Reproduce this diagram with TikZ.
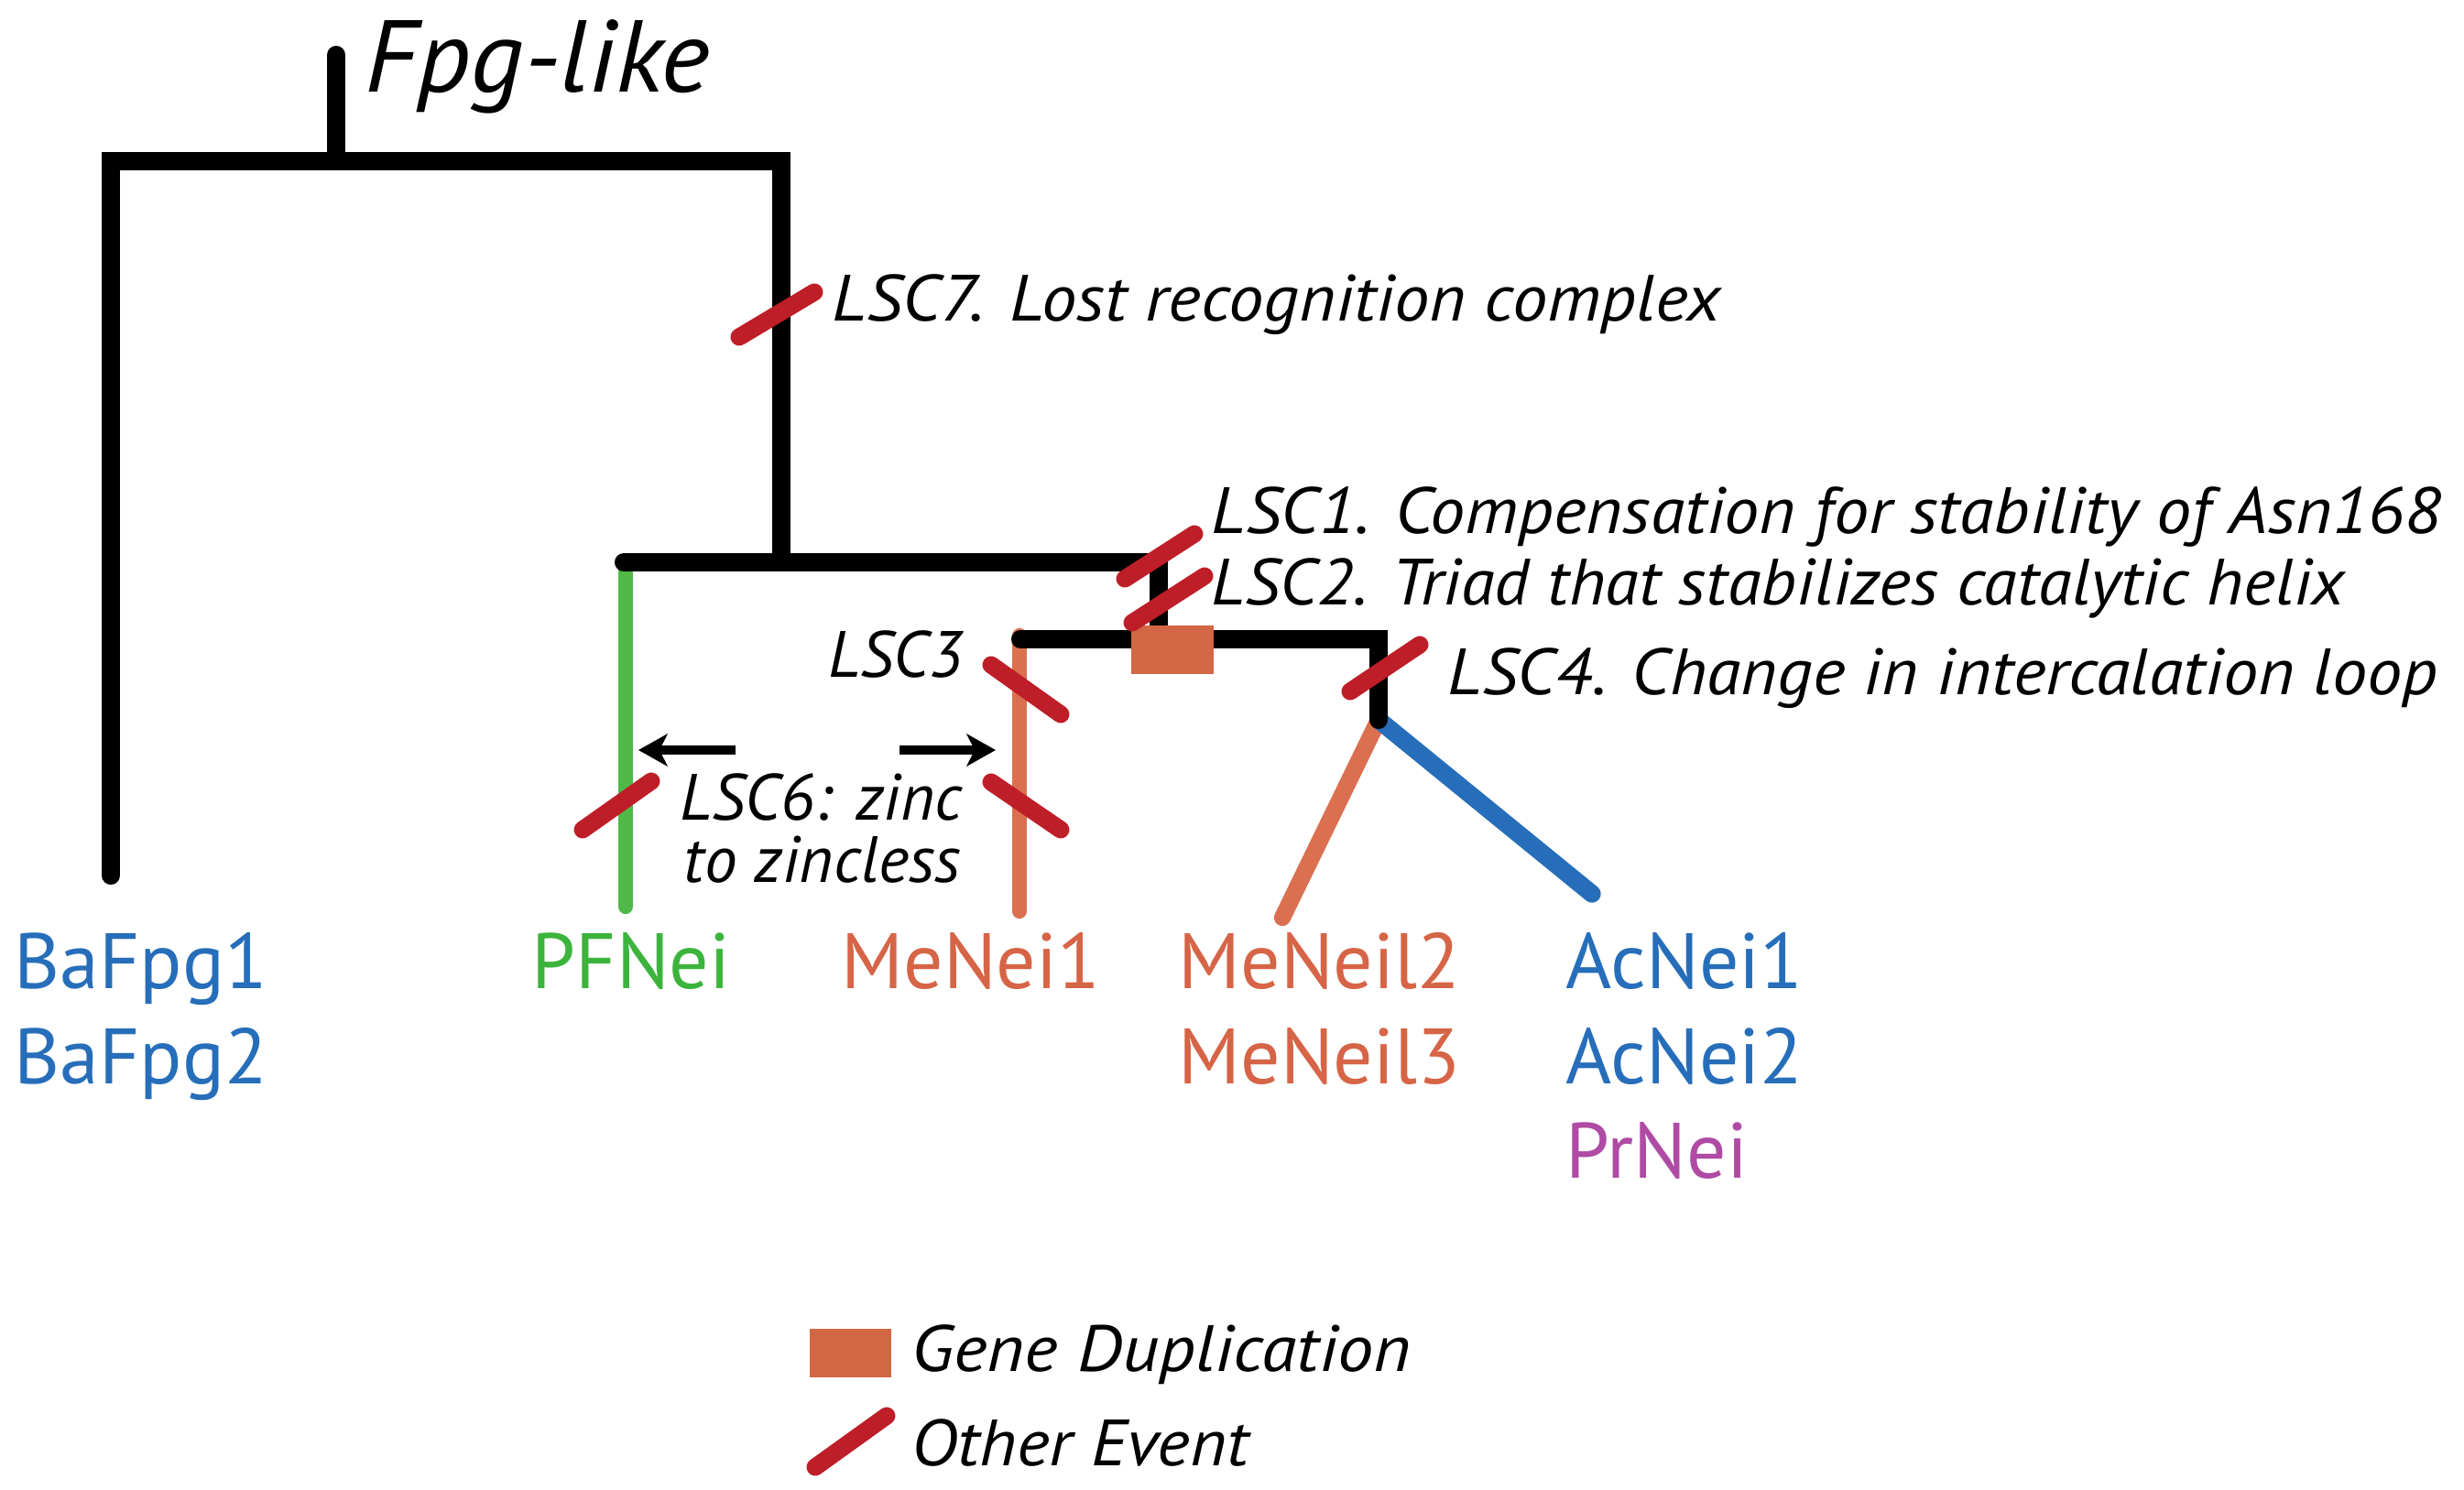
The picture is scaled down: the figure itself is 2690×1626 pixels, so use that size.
\documentclass[tikz,border=0pt]{standalone}
\usepackage{fontspec}
\usepackage{graphicx}
\setmainfont{PT Sans}
\usetikzlibrary{arrows.meta}
\definecolor{tblue}{RGB}{38,110,185}
\definecolor{tgreen}{RGB}{80,185,72}
\definecolor{tgreentxt}{RGB}{60,180,60}
\definecolor{torange}{RGB}{218,112,80}
\definecolor{torangetxt}{RGB}{214,100,70}
\definecolor{tsquare}{RGB}{210,102,69}
\definecolor{tpurple}{RGB}{175,75,165}
\definecolor{tred}{RGB}{190,30,40}
\newcommand\stretchtxt[2]{\scalebox{#1}[1]{#2}}
\tikzset{
  branch/.style={line width=5.7pt, line cap=round, line join=miter, black},
  gbranch/.style={line width=4.6pt, line cap=round, tgreen},
  obranch/.style={line width=4.6pt, line cap=round, torange},
  obranch2/.style={line width=5.2pt, line cap=round, torange},
  bbranch/.style={line width=5.5pt, line cap=round, tblue},
  evmark/.style={line width=5.4pt, line cap=round, tred},
  dupbox/.style={fill=tsquare, draw=none, inner sep=0, minimum width=0.89cm, minimum height=0.53cm},
  lbl/.style={font=\fontsize{20.3}{24}\selectfont\itshape, inner sep=0, anchor=base west},
  taxon/.style={font=\fontsize{24.4}{28}\selectfont, inner sep=0, anchor=base west},
  harrow/.style={line width=2.8pt, -{Stealth[length=9pt,width=10pt,inset=2.5pt]}, black},
}
\begin{document}
\begin{tikzpicture}[x=0.01cm, y=-0.01cm]
\useasboundingbox (0,0) rectangle (2690,1626);
% coordinates of the tree
\coordinate (r0) at (367,60);
\coordinate (r1) at (367,176);
\coordinate (tl) at (121,176);
\coordinate (tr) at (853,176);
\coordinate (bl) at (121,956);
\coordinate (n2) at (853,614);
\coordinate (n2l) at (681,614);
\coordinate (n2r) at (1265,614);
\coordinate (n3) at (1265,698);
\coordinate (n3l) at (1114,698);
\coordinate (n3r) at (1505,698);
\coordinate (n4) at (1505,786);
\coordinate (pf) at (683,990);
\coordinate (pft) at (683,614);
\coordinate (me1t) at (1113,694);
\coordinate (me1) at (1113,995);
\coordinate (me2) at (1400,1002);
\coordinate (ac) at (1738,976);

% coloured branches
\draw[gbranch] (pft) -- (pf);
\draw[obranch] (me1t) -- (me1);
\draw[obranch2] (n4) -- (me2);
\draw[bbranch] (n4) -- (ac);

% black branches
\draw[branch] (r0) -- (r1);
\draw[branch] (bl) -- (tl) -- (tr) -- (n2);
\draw[branch] (n2l) -- (n2r) -- (n3);
\draw[branch] (n3l) -- (n3r) -- (n4);

% gene duplication
\node[dupbox] (dup) at (1280,709) {};

% event marks
\coordinate (e7a) at (807,368); \coordinate (e7b) at (889,319);
\coordinate (e1a) at (1228,632); \coordinate (e1b) at (1304,583);
\coordinate (e2a) at (1236,680); \coordinate (e2b) at (1315,629);
\coordinate (e4a) at (1474,755); \coordinate (e4b) at (1550,704);
\coordinate (e3a) at (1082,726); \coordinate (e3b) at (1158,780);
\coordinate (e6a) at (1082,854); \coordinate (e6b) at (1158,906);
\coordinate (e5a) at (636,906); \coordinate (e5b) at (711,853);
\draw[evmark] (e7a) -- (e7b);
\draw[evmark] (e1a) -- (e1b);
\draw[evmark] (e2a) -- (e2b);
\draw[evmark] (e4a) -- (e4b);
\draw[evmark] (e3a) -- (e3b);
\draw[evmark] (e6a) -- (e6b);
\draw[evmark] (e5a) -- (e5b);

% arrows
\coordinate (al0) at (803,819); \coordinate (al1) at (697,819);
\coordinate (ar0) at (982,819); \coordinate (ar1) at (1087,819);
\draw[harrow] (al0) -- (al1);
\draw[harrow] (ar0) -- (ar1);

% labels
\node[lbl, font=\fontsize{31.7}{36}\selectfont\itshape] (fpg) at (398,100) {\stretchtxt{1.034}{Fpg-like}};
\node[lbl] (l7) at (908,350) {\stretchtxt{1.075}{LSC7. Lost recognition complex}};
\node[lbl] (l1) at (1322,582) {\stretchtxt{1.068}{LSC1. Compensation for stability of Asn168}};
\node[lbl] (l2) at (1322,660) {\stretchtxt{1.05}{LSC2. Triad that stabilizes catalytic helix}};
\node[lbl] (l4) at (1580,758) {\stretchtxt{1.07}{LSC4. Change in intercalation loop}};
\node[lbl] (l3) at (904,739) {LSC3};
\node[lbl] (l6a) at (742,895) {LSC6: zinc};
\node[lbl] (l6b) at (746,963) {to zincless};

% taxa
\node[taxon, tblue] (t1) at (15,1079) {BaFpg1};
\node[taxon, tblue] (t2) at (15,1183) {BaFpg2};
\node[taxon, tgreentxt] (t3) at (580,1079) {PFNei};
\node[taxon, torangetxt] (t4) at (918,1079) {MeNei1};
\node[taxon, torangetxt] (t5) at (1286,1079) {MeNeil2};
\node[taxon, torangetxt] (t6) at (1286,1183) {MeNeil3};
\node[taxon, tblue] (t7) at (1709,1079) {AcNei1};
\node[taxon, tblue] (t8) at (1709,1183) {AcNei2};
\node[taxon, tpurple] (t9) at (1709,1286) {PrNei};

% legend
\node[dupbox] (lgbox) at (928.5,1477.5) {};
\coordinate (lga) at (890,1602); \coordinate (lgb) at (968,1546);
\draw[evmark] (lga) -- (lgb);
\node[lbl] (lg1) at (995,1497) {\stretchtxt{1.1}{Gene Duplication}};
\node[lbl] (lg2) at (995,1600) {\stretchtxt{1.075}{Other Event}};
\end{tikzpicture}
\end{document}
